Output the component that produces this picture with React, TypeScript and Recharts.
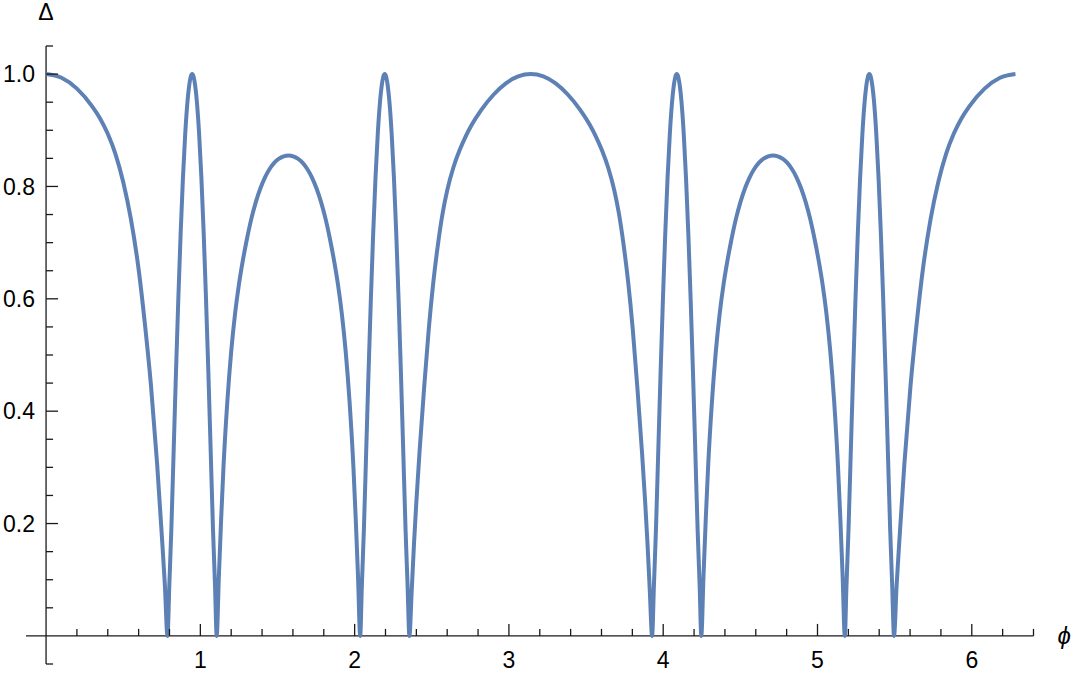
import { Line, LineChart, ReferenceLine, XAxis, YAxis } from 'recharts';

// [phi, delta] pairs, lobe by lobe (cusps at delta = 0 are shared)
const EDGE_LEFT = [
  [0, 1.0], [0.1, 0.9934], [0.2, 0.9741], [0.3, 0.9421], [0.35, 0.9211], [0.4, 0.8938],
  [0.45, 0.8577], [0.5, 0.808], [0.55, 0.7418], [0.6, 0.6524], [0.64, 0.557], [0.68, 0.4457],
  [0.72, 0.3058], [0.75, 0.1798], [0.77, 0.0909], [0.787, 0.0],
];
const SPIKE_1 = [
  [0.799, 0.0909], [0.812, 0.1896], [0.827, 0.3295], [0.842, 0.4686], [0.857, 0.5978],
  [0.872, 0.7145], [0.887, 0.8139], [0.902, 0.8938], [0.917, 0.9523], [0.927, 0.9784],
  [0.937, 0.9946], [0.947, 1.0], [0.957, 0.9946], [0.967, 0.9784], [0.977, 0.9523],
  [0.992, 0.8938], [1.007, 0.8139], [1.022, 0.7145], [1.037, 0.5978], [1.052, 0.4686],
  [1.067, 0.3295], [1.082, 0.1896], [1.095, 0.0909], [1.106, 0.0],
];
const HUMP_1 = [
  [1.12, 0.1055], [1.135, 0.2092], [1.15, 0.301], [1.175, 0.4176], [1.2, 0.5062], [1.225, 0.5735],
  [1.25, 0.6255], [1.275, 0.6675], [1.3, 0.7038], [1.33, 0.7418], [1.36, 0.7726], [1.39, 0.7973],
  [1.42, 0.8168], [1.45, 0.8315], [1.48, 0.8424], [1.51, 0.8494], [1.54, 0.8536], [1.571, 0.8551],
  [1.602, 0.8536], [1.632, 0.8494], [1.662, 0.8424], [1.692, 0.8315], [1.722, 0.8168],
  [1.752, 0.7973], [1.782, 0.7726], [1.812, 0.7418], [1.842, 0.7038], [1.867, 0.6675],
  [1.892, 0.6255], [1.917, 0.5735], [1.942, 0.5062], [1.967, 0.4176], [1.992, 0.301],
  [2.007, 0.2092], [2.022, 0.1055], [2.036, 0.0],
];
const SPIKE_2 = [
  [2.047, 0.0909], [2.06, 0.1896], [2.075, 0.3295], [2.09, 0.4686], [2.105, 0.5978],
  [2.12, 0.7145], [2.135, 0.8139], [2.15, 0.8938], [2.165, 0.9523], [2.175, 0.9784],
  [2.185, 0.9946], [2.195, 1.0], [2.205, 0.9946], [2.215, 0.9784], [2.225, 0.9523],
  [2.24, 0.8938], [2.255, 0.8139], [2.27, 0.7145], [2.285, 0.5978], [2.3, 0.4686],
  [2.315, 0.3295], [2.33, 0.1896], [2.343, 0.0909], [2.355, 0.0],
];
const CENTRE = [
  [2.37, 0.0807], [2.385, 0.165], [2.4, 0.2385], [2.42, 0.3248], [2.45, 0.4402], [2.48, 0.5447],
  [2.51, 0.6294], [2.54, 0.6967], [2.57, 0.7518], [2.6, 0.7931], [2.64, 0.8337], [2.68, 0.8643],
  [2.72, 0.8893], [2.76, 0.9102], [2.82, 0.9359], [2.9, 0.9632], [2.98, 0.9835], [3.06, 0.9958],
  [3.142, 1.0], [3.223, 0.9958], [3.303, 0.9835], [3.383, 0.9632], [3.463, 0.9359],
  [3.523, 0.9102], [3.563, 0.8893], [3.603, 0.8643], [3.643, 0.8337], [3.683, 0.7931],
  [3.713, 0.7518], [3.743, 0.6967], [3.773, 0.6294], [3.803, 0.5447], [3.833, 0.4402],
  [3.863, 0.3248], [3.883, 0.2385], [3.898, 0.165], [3.913, 0.0807], [3.928, 0.0],
];
const SPIKE_3 = [
  [3.94, 0.0909], [3.953, 0.1896], [3.968, 0.3295], [3.983, 0.4686], [3.998, 0.5978],
  [4.013, 0.7145], [4.028, 0.8139], [4.043, 0.8938], [4.058, 0.9523], [4.068, 0.9784],
  [4.078, 0.9946], [4.088, 1.0], [4.098, 0.9946], [4.108, 0.9784], [4.118, 0.9523],
  [4.133, 0.8938], [4.148, 0.8139], [4.163, 0.7145], [4.178, 0.5978], [4.193, 0.4686],
  [4.208, 0.3295], [4.223, 0.1896], [4.236, 0.0909], [4.247, 0.0],
];
const HUMP_2 = [
  [4.261, 0.1055], [4.276, 0.2092], [4.291, 0.301], [4.316, 0.4176], [4.341, 0.5062],
  [4.366, 0.5735], [4.391, 0.6255], [4.416, 0.6675], [4.441, 0.7038], [4.471, 0.7418],
  [4.501, 0.7726], [4.531, 0.7973], [4.561, 0.8168], [4.591, 0.8315], [4.621, 0.8424],
  [4.651, 0.8494], [4.681, 0.8536], [4.712, 0.8551], [4.743, 0.8536], [4.773, 0.8494],
  [4.803, 0.8424], [4.833, 0.8315], [4.863, 0.8168], [4.893, 0.7973], [4.923, 0.7726],
  [4.953, 0.7418], [4.983, 0.7038], [5.008, 0.6675], [5.033, 0.6255], [5.058, 0.5735],
  [5.083, 0.5062], [5.108, 0.4176], [5.133, 0.301], [5.148, 0.2092], [5.163, 0.1055], [5.177, 0.0],
];
const SPIKE_4 = [
  [5.188, 0.0909], [5.201, 0.1896], [5.216, 0.3295], [5.231, 0.4686], [5.246, 0.5978],
  [5.261, 0.7145], [5.276, 0.8139], [5.291, 0.8938], [5.306, 0.9523], [5.316, 0.9784],
  [5.326, 0.9946], [5.336, 1.0], [5.346, 0.9946], [5.356, 0.9784], [5.366, 0.9523],
  [5.381, 0.8938], [5.396, 0.8139], [5.411, 0.7145], [5.426, 0.5978], [5.441, 0.4686],
  [5.456, 0.3295], [5.471, 0.1896], [5.484, 0.0909], [5.496, 0.0],
];
const EDGE_RIGHT = [
  [5.513, 0.0909], [5.533, 0.1798], [5.563, 0.3058], [5.603, 0.4457], [5.643, 0.557],
  [5.683, 0.6524], [5.733, 0.7418], [5.783, 0.808], [5.833, 0.8577], [5.883, 0.8938],
  [5.933, 0.9211], [5.983, 0.9421], [6.083, 0.9741], [6.183, 0.9934], [6.283, 1.0],
];

const X_TICKS = [
  0.2, 0.4, 0.6, 0.8, 1, 1.2, 1.4, 1.6, 1.8, 2, 2.2, 2.4, 2.6, 2.8, 3, 3.2,
  3.4, 3.6, 3.8, 4, 4.2, 4.4, 4.6, 4.8, 5, 5.2, 5.4, 5.6, 5.8, 6, 6.2, 6.4,
];
const Y_TICKS = [
  -0.05, 0.05, 0.1, 0.15, 0.2, 0.25, 0.3, 0.35, 0.4, 0.45, 0.5, 0.55,
  0.6, 0.65, 0.7, 0.75, 0.8, 0.85, 0.9, 0.95, 1.0, 1.05,
];

const DATA = [
  ...EDGE_LEFT, ...SPIKE_1, ...HUMP_1, ...SPIKE_2, ...CENTRE,
  ...SPIKE_3, ...HUMP_2, ...SPIKE_4, ...EDGE_RIGHT,
].map(([phi, delta]) => ({ phi, delta }));

const W = 1080;
const H = 673;
const X_DOMAIN = [-0.13, 6.4];
const Y_DOMAIN = [-0.05, 1.05];
const MARGIN = { top: 46, right: 46.5, bottom: 8, left: 25 };
const X_AXIS_H = 1; // axes must have a size or recharts skips their ticks
const Y_AXIS_W = 1;
const PLOT_LEFT = MARGIN.left + Y_AXIS_W;
const PLOT_W = W - PLOT_LEFT - MARGIN.right;
const PLOT_H = H - MARGIN.top - MARGIN.bottom - X_AXIS_H;
// where the axes cross (data origin), in pixels
const ZERO_X = PLOT_LEFT + (PLOT_W * (0 - X_DOMAIN[0])) / (X_DOMAIN[1] - X_DOMAIN[0]);
const ZERO_Y = MARGIN.top + (PLOT_H * (Y_DOMAIN[1] - 0)) / (Y_DOMAIN[1] - Y_DOMAIN[0]);

const AXIS_COLOR = '#1a1a1a';
const FONT = '"Liberation Sans", Arial, sans-serif';
const LINE_COLOR = '#5E81B5';

function XTick(props: any) {
  const { x, payload } = props;
  const v = payload.value as number;
  const major = Math.abs(v - Math.round(v)) < 1e-6;
  return (
    <g>
      <line x1={x} y1={ZERO_Y} x2={x} y2={ZERO_Y - (major ? 12 : 7)} stroke={AXIS_COLOR} strokeWidth={1.3} />
      {major && (
        <text x={x} y={ZERO_Y + 32} textAnchor="middle" fontSize={23} fontFamily={FONT} fill="#000">
          {Math.round(v)}
        </text>
      )}
    </g>
  );
}

function YTick(props: any) {
  const { y, payload } = props;
  const v = payload.value as number;
  const major = v > 0 && Math.round(v * 100) % 20 === 0;
  return (
    <g>
      <line x1={ZERO_X} y1={y} x2={ZERO_X + (major ? 12 : 7)} y2={y} stroke={AXIS_COLOR} strokeWidth={1.3} />
      {major && (
        <text x={ZERO_X - 11} y={y} dy="0.36em" textAnchor="end" fontSize={23} fontFamily={FONT} fill="#000">
          {v.toFixed(1)}
        </text>
      )}
    </g>
  );
}

export default function App() {
  return (
    <div style={{ position: 'absolute', left: 0, top: 0, width: W, height: H, background: '#fff' }}>
      <LineChart width={W} height={H} data={DATA} margin={MARGIN}>
        <XAxis
          dataKey="phi"
          type="number"
          domain={X_DOMAIN}
          ticks={X_TICKS}
          interval={0}
          height={X_AXIS_H}
          tickSize={0}
          tickMargin={0}
          axisLine={false}
          tickLine={false}
          tick={<XTick />}
        />
        <YAxis
          type="number"
          domain={Y_DOMAIN}
          ticks={Y_TICKS}
          interval={0}
          width={Y_AXIS_W}
          tickSize={0}
          tickMargin={0}
          axisLine={false}
          tickLine={false}
          tick={<YTick />}
        />
        <ReferenceLine
          y={0}
          stroke={AXIS_COLOR}
          strokeWidth={1.3}
          label={{ value: 'ϕ', position: 'right', offset: 24, fontSize: 24, fontStyle: 'italic', fontFamily: FONT, fill: '#000' }}
        />
        <ReferenceLine
          x={0}
          stroke={AXIS_COLOR}
          strokeWidth={1.3}
          label={{ value: 'Δ', position: 'top', offset: 26, fontSize: 23, fontFamily: FONT, fill: '#000' }}
        />
        <Line
          type="monotone"
          dataKey="delta"
          stroke={LINE_COLOR}
          strokeWidth={4}
          strokeLinejoin="round"
          dot={false}
          activeDot={false}
          isAnimationActive={false}
        />
      </LineChart>
    </div>
  );
}
